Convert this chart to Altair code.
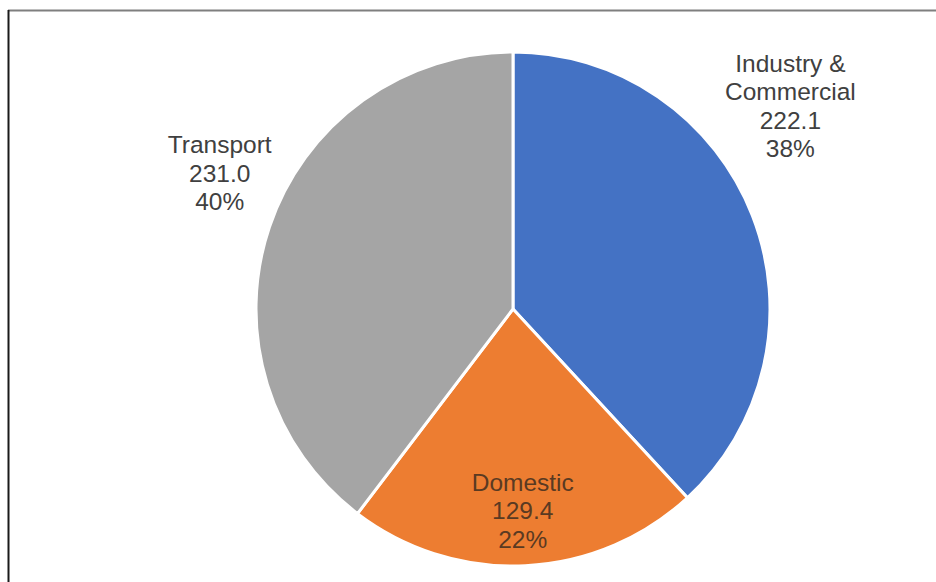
import altair as alt
import pandas as pd

categories = ["Industry & Commercial", "Domestic", "Transport"]
values = [222.1, 129.4, 231.0]
percents = ["38%", "22%", "40%"]
label_lines = [["Industry &", "Commercial"], ["Domestic"], ["Transport"]]
value_text = ["222.1", "129.4", "231.0"]
colors = ["#4472C4", "#ED7D31", "#A5A5A5"]

df = pd.DataFrame({
    "category": categories,
    "value": values,
    "order": list(range(len(categories))),
    "label": ["\n".join(l + [v, p]) for l, v, p in zip(label_lines, value_text, percents)],
})
total = sum(values)

CX, CY, R = 513, 309, 257
theta_scale = alt.Scale(domain=[0, total])

pie = alt.Chart(df).mark_arc(outerRadius=R, stroke="white", strokeWidth=3).encode(
    theta=alt.Theta("value:Q", stack=True, scale=theta_scale),
    order=alt.Order("order:Q"),
    x=alt.value(CX),
    y=alt.value(CY),
    color=alt.Color("category:N",
                    scale=alt.Scale(domain=categories, range=colors),
                    legend=None),
)

text_base = alt.Chart(df).transform_window(
    cum="sum(value)", sort=[alt.SortField("order")]
).transform_calculate(
    mid="datum.cum - datum.value / 2"
)

def label_layer(cat, radius, dx, dy, color):
    return text_base.transform_filter(alt.datum.category == cat).mark_text(
        radius=radius, dx=dx, dy=dy, fontSize=24.5, font="Liberation Sans",
        lineBreak="\n", lineHeight=28.5, align="center", baseline="middle",
        color=color,
    ).encode(
        theta=alt.Theta("mid:Q", stack=None, scale=theta_scale),
        x=alt.value(CX),
        y=alt.value(CY),
        text="label:N",
    )

lab_ind = label_layer("Industry & Commercial", 300, -2, -135, "#404040")
lab_dom = label_layer("Domestic", 203, 0, -28, "#5a3a22")
lab_tra = label_layer("Transport", 300, -9, -67, "#404040")

border_df = pd.DataFrame({"k": [0]})
top_rule = alt.Chart(border_df).mark_rule(color="#7f7f7f", strokeWidth=2).encode(
    x=alt.value(8), x2=alt.value(936), y=alt.value(10.5)
)
left_rule = alt.Chart(border_df).mark_rule(color="#1a1a1a", strokeWidth=2).encode(
    x=alt.value(8.5), y=alt.value(10), y2=alt.value(582)
)

chart = alt.layer(pie, lab_ind, lab_dom, lab_tra, top_rule, left_rule).properties(
    width=936, height=582, padding=0, autosize=alt.AutoSizeParams(type="none"),
    background="white",
).configure_view(stroke=None)

chart.save("out.html", embed_options={"renderer": "svg", "actions": False})
